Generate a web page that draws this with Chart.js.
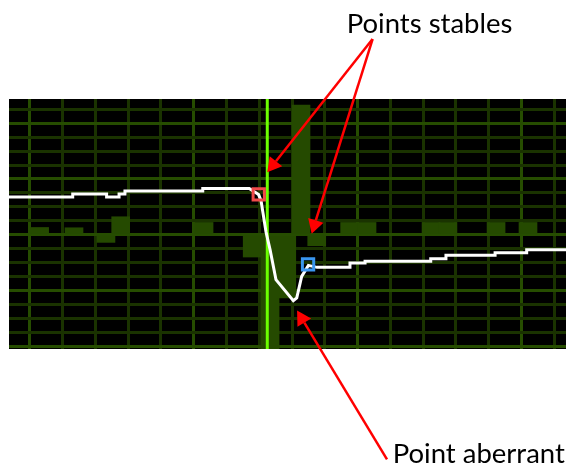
<!DOCTYPE html>
<html>
<head>
<meta charset="utf-8">
<title>Points stables / point aberrant</title>
<script src="https://cdn.jsdelivr.net/npm/chart.js@4.4.0/dist/chart.umd.min.js"></script>
<style>
	html, body { margin: 0; padding: 0; background: #fff; }
	canvas { display: block; }
</style>
</head>
<body>
<canvas id="myChart" width="566" height="466"></canvas>
<script>

// histogramme (centre du créneau, valeur)
const barX = [0.59, 2.69, 4.64, 5.54, 10.63, 13.57, 14.66, 15.68, 16.55, 17.51, 19.52, 20.58, 24.49, 25.52, 28.46, 30.41];
const barY = [0.52, 0.5, -0.55, 1.29, 0.88, -1.6, -9.5, -4.53, 9.31, -0.79, 0.88, 0.88, 0.88, 0.88, 0.88, 0.88];

// trace blanche (sommets)
const lineX = [-1.5, 2.61, 2.61, 4.68, 4.68, 5.44, 5.44, 5.80, 5.80, 10.55, 10.55, 13.39, 13.96, 14.11, 14.41, 14.66, 15.02, 16.08, 16.29, 16.59, 17.0, 17.53, 19.54, 19.54, 20.46, 20.46, 24.47, 24.47, 25.4, 25.4, 28.4, 28.4, 30.33, 30.33, 33];
const lineY = [2.70, 2.70, 2.92, 2.92, 2.70, 2.70, 2.92, 2.92, 3.13, 3.13, 3.32, 3.32, 2.88, 2.44, 0.21, -1.07, -3.22, -4.73, -4.53, -2.99, -2.2, -2.34, -2.34, -2.03, -2.03, -1.91, -1.91, -1.72, -1.72, -1.48, -1.48, -1.29, -1.29, -1.07, -1.07];

// points stables (carrés)
const stableX = [13.97, 16.98];
const stableY = [2.90, -2.13];
const stableColors = ['#f04a4a', '#3a96f0'];

// point aberrant
const outlierX = 16.08;
const outlierY = -4.73;

// curseur vertical
const cursorX = 14.49;

// lignes de grille
const xGrid = [0, 2, 4, 6, 8, 10, 12, 14, 16, 18, 20, 22, 24, 26, 28, 30, 32];
const yGrid = [-8, -7, -6, -5, -4, -3, -2, -1, 0, 1, 2, 3, 4, 5, 6, 7, 8, 9];

// annotations
const labelStable = 'Points stables';
const labelOutlier = 'Point aberrant';

const colors = {
	major: '#264d00',
	minor: '#1a3300',
	bars: '#254a00',
	cursor: '#6cff00',
	arrow: '#ff0000'
};

// fond noir de la zone du graphique
const background = {
	id: 'background',
	beforeDraw(chart) {
		const a = chart.chartArea;
		chart.ctx.save();
		chart.ctx.fillStyle = '#000';
		chart.ctx.fillRect(a.left, a.top, a.right - a.left, a.bottom - a.top);
		chart.ctx.restore();
	}
};

function arrow(ctx, x1, y1, x2, y2) {
	const ang = Math.atan2(y2 - y1, x2 - x1);
	const len = 14, half = 8;
	const bx = x2 - len * Math.cos(ang), by = y2 - len * Math.sin(ang);
	ctx.beginPath();
	ctx.moveTo(x1, y1);
	ctx.lineTo(bx, by);
	ctx.stroke();
	ctx.beginPath();
	ctx.moveTo(x2, y2);
	ctx.lineTo(bx + half * Math.sin(ang), by - half * Math.cos(ang));
	ctx.lineTo(bx - half * Math.sin(ang), by + half * Math.cos(ang));
	ctx.closePath();
	ctx.fill();
}

// flèches et textes
const notes = {
	id: 'notes',
	afterDraw(chart) {
		const ctx = chart.ctx;
		const x = chart.scales.x, y = chart.scales.y;
		const px = v => x.getPixelForValue(v), py = v => y.getPixelForValue(v);
		ctx.save();
		ctx.strokeStyle = colors.arrow;
		ctx.fillStyle = colors.arrow;
		ctx.lineWidth = 2.5;
		arrow(ctx, px(20.92), py(14.04), px(cursorX), py(4.48));
		arrow(ctx, px(20.92), py(14.04), px(17.2), py(0.07));
		arrow(ctx, px(21.8), py(-16.12), px(outlierX + 0.23), py(outlierY - 0.71));
		ctx.fillStyle = '#000';
		ctx.font = '27.5px Lato';
		ctx.textBaseline = 'alphabetic';
		ctx.fillText(labelStable, px(19.34), py(14.45));
		ctx.fillText(labelOutlier, px(22.15), py(-16.35));
		ctx.restore();
	}
};

const pts = (xs, ys) => xs.map((v, i) => ({x: v, y: ys[i]}));

var chart = new Chart(document.getElementById('myChart').getContext('2d'), {
	type: 'bar',
	data: {
		datasets: [{
			type: 'scatter',
			data: pts(stableX, stableY),
			pointStyle: 'rect',
			pointRadius: 8,
			borderColor: stableColors,
			backgroundColor: 'rgba(0,0,0,0)',
			borderWidth: 3,
			order: 0
		}, {
			type: 'line',
			data: pts(lineX, lineY),
			borderColor: '#fff',
			borderWidth: 3,
			pointRadius: 0,
			tension: 0,
			order: 1
		}, {
			type: 'line',
			data: [{x: cursorX, y: -8.2}, {x: cursorX, y: 9.74}],
			borderColor: colors.cursor,
			borderWidth: 3,
			pointRadius: 0,
			clip: 0,
			order: 2
		}, {
			type: 'bar',
			data: pts(barX, barY),
			backgroundColor: colors.bars,
			barThickness: 18,
			order: 3
		}]
	},
	options: {
		responsive: false,
		animation: false,
		layout: { autoPadding: false, padding: { left: 9, right: 0, top: 99, bottom: 117 } },
		plugins: { legend: { display: false }, tooltip: { enabled: false } },
		scales: {
			x: {
				type: 'linear',
				min: -1.28,
				max: 32.73,
				offset: false,
				afterBuildTicks: axis => { axis.ticks = xGrid.map(v => ({value: v})); },
				ticks: { display: false },
				border: { display: false },
				grid: {
					offset: false,
					drawTicks: false,
					lineWidth: 3,
					color: c => c.tick && c.tick.value % 10 === 0 ? colors.major : colors.minor
				}
			},
			y: {
				type: 'linear',
				min: -8.2,
				max: 9.74,
				afterBuildTicks: axis => { axis.ticks = yGrid.map(v => ({value: v})); },
				ticks: { display: false },
				border: { display: false },
				grid: {
					drawTicks: false,
					lineWidth: 3,
					color: c => c.tick && c.tick.value % 4 === 0 ? colors.major : colors.minor
				}
			}
		}
	},
	plugins: [background, notes]
});
</script>
</body>
</html>
